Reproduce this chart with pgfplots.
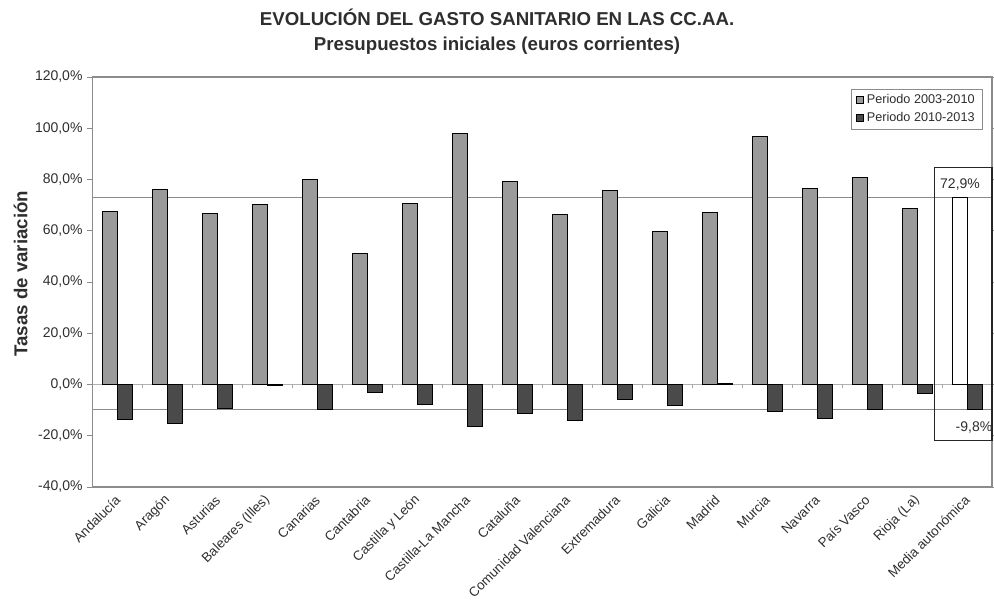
\documentclass[border=0pt]{standalone}
\usepackage{pgfplots}
\pgfplotsset{compat=1.18}
\usepackage{fontspec}
\setmainfont{Liberation Sans}
\definecolor{barA}{HTML}{9A9A9A}
\definecolor{barB}{HTML}{4A4A4A}
\definecolor{framegray}{HTML}{8C8C8C}
\definecolor{txtgray}{HTML}{2E2E2E}

\begin{document}
\begin{tikzpicture}
\begin{axis}[
  name=ax,
  scale only axis,
  width=674.6pt, height=307.5pt,
  xmin=-0.5, xmax=17.5, ymin=-40, ymax=120,
  clip mode=individual,
  axis line style={framegray, line width=0.8pt},
  xtick={0,...,17},
  xticklabels={Andalucía, Aragón, Asturias, Baleares (Illes), Canarias, Cantabria, Castilla y León, Castilla-La Mancha, Cataluña, Comunidad Valenciana, Extremadura, Galicia, Madrid, Murcia, Navarra, País Vasco, Rioja (La), Media autonómica},
  xtick style={draw=none},
  xticklabel style={yshift=-4pt, xshift=0.5pt, rotate=45, anchor=east, inner sep=0.3pt, font=\fontsize{10}{12}\selectfont, text=txtgray},
  ytick={-40,-20,...,120},
  yticklabel={\pgfmathprintnumber[fixed,fixed zerofill,precision=1,use comma]{\tick}\%},
  /pgf/number format/assume math mode=true,
  yticklabel style={font=\fontsize{10.5}{12}\selectfont, text=txtgray},
  tick align=outside,
  ytick style={framegray, line width=0.6pt},
  major tick length=4pt,
  every axis y label/.style={at={(axis description cs:0,0.52)}, xshift=-54pt, rotate=90, anchor=center, font=\bfseries\fontsize{14}{16}\selectfont, text=txtgray},
  ylabel={Tasas de variación},
  legend style={at={(0.99,0.971)}, anchor=north east, draw=framegray, line width=0.6pt, font=\fontsize{9.5}{11}\selectfont, text=txtgray, row sep=1pt, inner xsep=4pt, inner ysep=2pt, cells={anchor=west}},
]
% reference lines (averages)
\addplot[black!45, line width=0.7pt, forget plot] coordinates {(-0.5,72.9) (17.5,72.9)};
\addplot[black!45, line width=0.7pt, forget plot] coordinates {(-0.5,-9.8) (17.5,-9.8)};
% zero line with small ticks
\draw[black!30, line width=0.5pt] (axis cs:-0.5,0) -- (axis cs:17.5,0);
\pgfplotsinvokeforeach{0,...,16}{\draw[black!35, line width=0.5pt] (axis cs:#1+0.5,0) -- (axis cs:#1+0.5,-1.2);}

\addplot[ybar, bar width=0.3, bar shift=-0.15, fill=barA, draw=black, line width=0.7pt,
  legend image code/.code={\draw[fill=barA, draw=black, line width=0.6pt] (0pt,-2.6pt) rectangle (5.2pt,2.6pt);}]
  coordinates {(0,67.4) (1,76.0) (2,66.9) (3,70.4) (4,80.1) (5,51.3) (6,70.6) (7,98.1) (8,79.1) (9,66.4) (10,75.7) (11,59.8) (12,67.3) (13,96.7) (14,76.4) (15,80.7) (16,68.6)};
\addlegendentry{Periodo 2003-2010}
\addplot[ybar, bar width=0.3, bar shift=0.15, fill=barB, draw=black, line width=0.7pt,
  legend image code/.code={\draw[fill=barB, draw=black, line width=0.6pt] (0pt,-2.6pt) rectangle (5.2pt,2.6pt);}]
  coordinates {(0,-13.7) (1,-15.1) (2,-9.4) (3,-0.4) (4,-9.8) (5,-3.0) (6,-7.6) (7,-16.3) (8,-11.3) (9,-14.0) (10,-5.8) (11,-8.3) (12,0.4) (13,-10.4) (14,-13.2) (15,-9.7) (16,-3.6) (17,-9.8)};
\addlegendentry{Periodo 2010-2013}
\addplot[ybar, bar width=0.3, bar shift=-0.15, fill=white, draw=black, line width=0.7pt, forget plot]
  coordinates {(17,72.9)};

\draw[black!85, line width=0.8pt] (axis cs:16.35,84.8) rectangle (axis cs:17.5,-21.7);
\node[font=\fontsize{10.5}{12}\selectfont, text=txtgray] at (axis cs:16.86,78.2) {72,9\%};
\node[font=\fontsize{10.5}{12}\selectfont, text=txtgray] at (axis cs:17.14,-16.6) {-9,8\%};
\end{axis}
\node[font=\bfseries\fontsize{14}{16}\selectfont, text=txtgray] at ([xshift=303.4pt, yshift=45pt]ax.north west) {EVOLUCIÓN DEL GASTO SANITARIO EN LAS CC.AA.};
\node[font=\bfseries\fontsize{14}{16}\selectfont, text=txtgray] at ([xshift=303.4pt, yshift=23.25pt]ax.north west) {Presupuestos iniciales (euros corrientes)};
\pgfresetboundingbox
\path ([xshift=-69.4pt, yshift=-86.25pt]ax.south west) coordinate (bl);
\path ([xshift=1.5pt, yshift=57.75pt]ax.north east) coordinate (tr);
\useasboundingbox (bl) rectangle (tr);
\end{tikzpicture}
\end{document}
